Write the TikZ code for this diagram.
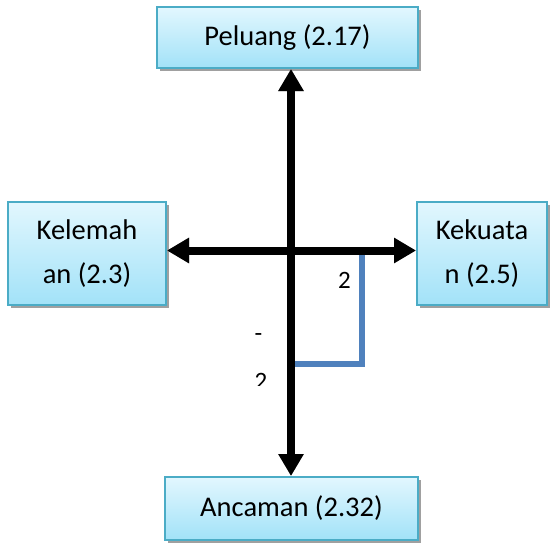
\documentclass[tikz,border=0pt]{standalone}
\usepackage{fontspec}
\setmainfont{Carlito}
\usetikzlibrary{arrows.meta,shadows}
\definecolor{boxline}{HTML}{4BACC6}
\definecolor{boxtop}{HTML}{E2F7FE}
\definecolor{boxbot}{HTML}{A2E2F8}
\definecolor{bracketblue}{HTML}{4F81BD}
\definecolor{shadowgray}{HTML}{A0A0A0}
\tikzset{
  factor/.style={draw=boxline, line width=2pt, top color=boxtop, bottom color=boxbot,
    inner sep=0pt, align=center, font=\fontsize{28.5}{44}\selectfont,
    drop shadow={shadow xshift=3pt, shadow yshift=-3pt, fill=shadowgray, opacity=1}},
  axis/.style={line width=8pt, {Triangle[length=22pt,width=24pt]}-{Triangle[length=22pt,width=24pt]}},
  axisline/.style={axis, draw=black},
  axisshadow/.style={axis, draw=shadowgray, shift={(3pt,-3pt)}},
  bracketline/.style={line width=6pt, line join=miter},
  mark2/.style={font=\fontsize{25}{30}\selectfont, inner sep=0pt}
}
\begin{document}
\begin{tikzpicture}[x=1pt, y=-1pt]
  \useasboundingbox[fill=white] (0,0) rectangle (551,544);

  % the four factor boxes
  \node[factor, minimum width=261pt, minimum height=61pt] (peluang) at (287.5,37.5) {Peluang (2.17)};
  \node[factor, minimum width=158pt, minimum height=103pt] (kelemahan) at (87,253.5) {Kelemah\\an (2.3)};
  \node[factor, minimum width=130pt, minimum height=103pt] (kekuatan) at (482,253.5) {Kekuata\\n (2.5)};
  \node[factor, minimum width=253pt, minimum height=63pt] (ancaman) at (291.5,508.5) {Ancaman (2.32)};

  % centre of the cross
  \coordinate (o) at (291,250.5);

  % axis shadows
  \draw[axisshadow] (o |- peluang.south) -- (o |- ancaman.north);
  \draw[axisshadow] (kelemahan.east |- o) -- (kekuatan.west |- o);

  % position bracket
  \coordinate (b1) at (362,254);
  \coordinate (b2) at (362,364);
  \coordinate (b3) at (295,364);
  \draw[bracketline, draw=shadowgray, shift={(3pt,-3pt)}] (b1) -- (b2) -- (b3);
  \draw[bracketline, draw=bracketblue] (b1) -- (b2) -- (b3);

  % axes
  \draw[axisline] (o |- peluang.south) -- (o |- ancaman.north);
  \draw[axisline] (kelemahan.east |- o) -- (kekuatan.west |- o);

  % axis value labels
  \node[mark2] (xval) at (344.5,280.5) {2};
  \node[mark2] (ydash) at (258.5,338) {-};
  \begin{scope}
    \clip (240,320) rectangle (285,385);
    \node[mark2] (yval) at (261,381.5) {2};
  \end{scope}
\end{tikzpicture}
\end{document}
